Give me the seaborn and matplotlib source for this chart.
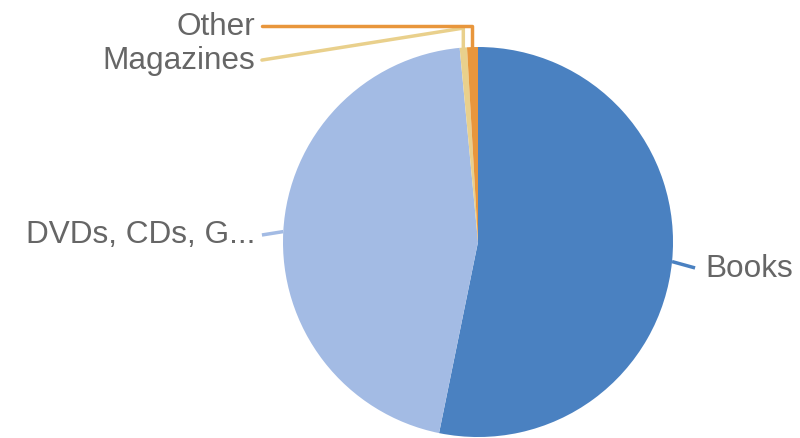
import numpy as np
import matplotlib
matplotlib.use("Agg")
import matplotlib.pyplot as plt
import seaborn as sns

# Slice data (clockwise from 12 o'clock)
categories = ["Books", "DVDs, CDs, G...", "Magazines", "Other"]
shares = [53.2, 45.3, 0.6, 0.9]
colors = ["#4a81c1", "#a3bbe4", "#e9d08c", "#e8963c"]

sns.set_theme(style="white")
plt.rcParams['font.family'] = ['Liberation Sans', 'DejaVu Sans']

fig = plt.figure(figsize=(8, 4.38), dpi=100)
ax = fig.add_axes([0, 0, 1, 1])
wedges, _ = ax.pie(shares, colors=colors, startangle=90, counterclock=False,
                   radius=1, center=(0, 0),
                   wedgeprops=dict(linewidth=0))
ax.set_aspect('equal')
ax.set_xlim(-2.451, 1.651)
ax.set_ylim(-1.005, 1.241)
ax.axis('off')

text_color = "#666666"
fs = 22.7

def edge_point(w):
    mid = np.deg2rad((w.theta1 + w.theta2) / 2)
    return np.cos(mid), np.sin(mid)

# Books: short leader to the right
x0, y0 = edge_point(wedges[0])
ax.plot([x0, 1.113], [y0, -0.133], color=colors[0], lw=2.5, solid_capstyle='butt')
ax.text(1.164, -0.138, categories[0], ha='left', va='center', fontsize=fs, color=text_color)

# DVDs: short leader to the left
x0, y0 = edge_point(wedges[1])
ax.plot([x0, -1.108], [y0, 0.036], color=colors[1], lw=2.5, solid_capstyle='butt')
ax.text(-1.144, 0.036, categories[1], ha='right', va='center', fontsize=fs, color=text_color)

# Magazines: up then slanted to label
x0, y0 = edge_point(wedges[2])
ax.plot([x0, x0, -1.108], [y0, 1.097, 0.933], color=colors[2], lw=2.5)
ax.text(-1.144, 0.928, categories[2], ha='right', va='center', fontsize=fs, color=text_color)

# Other: up then across to label
x0, y0 = edge_point(wedges[3])
ax.plot([x0, x0, -1.108], [y0, 1.108, 1.108], color=colors[3], lw=2.5)
ax.text(-1.144, 1.103, categories[3], ha='right', va='center', fontsize=fs, color=text_color)

fig.savefig("out.png", dpi=100)
